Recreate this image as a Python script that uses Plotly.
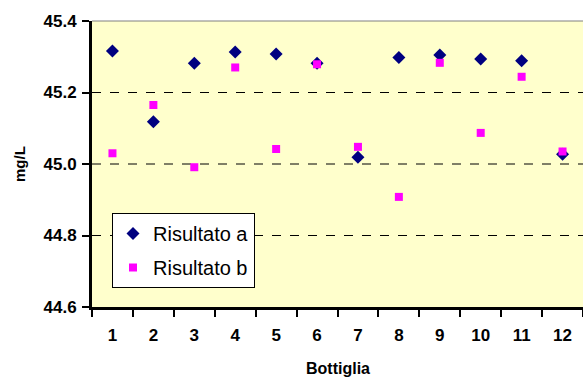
import plotly.graph_objects as go

bottiglie = ["1", "2", "3", "4", "5", "6", "7", "8", "9", "10", "11", "12"]
risultato_a = [45.316, 45.118, 45.282, 45.313, 45.308, 45.282, 45.019, 45.298, 45.305, 45.294, 45.289, 45.027]
risultato_b = [45.030, 45.165, 44.991, 45.270, 45.042, 45.279, 45.048, 44.908, 45.283, 45.087, 45.244, 45.035]
y_ticks = [44.6, 44.8, 45.0, 45.2, 45.4]

W, H = 583, 380
L, R, T, B = 92, 0, 21, 73
FONT = "Arial, Liberation Sans, sans-serif"

fig = go.Figure()
fig.add_trace(go.Scatter(x=bottiglie, y=risultato_a, mode="markers", name="Risultato a",
                         legendgroup="a",
                         marker=dict(symbol="diamond", size=10, color="#000080")))
fig.add_trace(go.Scatter(x=bottiglie, y=risultato_b, mode="markers", name="Risultato b",
                         legendgroup="b",
                         marker=dict(symbol="square", size=8, color="#FF00FF")))

for v in y_ticks[1:-1]:
    fig.add_shape(type="line", xref="paper", yref="y", x0=0, x1=1, y0=v, y1=v,
                  line=dict(color="black", width=1, dash="dash"), layer="below")
fig.add_shape(type="line", xref="paper", yref="paper", x0=0, x1=1, y0=1, y1=1,
              line=dict(color="#808080", width=1))

fig.update_layout(
    width=W, height=H,
    margin=dict(l=L, r=R, t=T, b=B),
    paper_bgcolor="white",
    plot_bgcolor="#FFFFCC",
    font=dict(family=FONT, color="black"),
    showlegend=True,
    legend=dict(x=(112 - L) / (W - L - R), y=(H - B - 213) / (H - B - T),
                xanchor="left", yanchor="top",
                bgcolor="white", bordercolor="black", borderwidth=1,
                font=dict(size=20, family=FONT),
                itemwidth=30,
                tracegroupgap=5, traceorder="grouped"),
    xaxis=dict(type="category", range=[-0.5, 11.5], tickson="boundaries",
               tickmode="array", tickvals=bottiglie,
               ticktext=[f"<b>{c}</b>" for c in bottiglie],
               ticks="outside", ticklen=7, tickwidth=2, tickcolor="black",
               ticklabelstandoff=11,
               showline=True, linecolor="black", linewidth=3,
               showgrid=False, zeroline=False,
               tickfont=dict(size=17, family=FONT)),
    yaxis=dict(range=[44.6, 45.4], tickmode="array", tickvals=y_ticks,
               ticktext=[f"<b>{v:.1f}</b>" for v in y_ticks],
               ticks="outside", ticklen=7, tickwidth=2, tickcolor="black",
               ticklabelstandoff=2,
               showline=True, linecolor="black", linewidth=3,
               showgrid=False, zeroline=False,
               tickfont=dict(size=17, family=FONT)),
    annotations=[
        dict(text="<b>Bottiglia</b>", xref="paper", yref="paper", x=0.5,
             y=-(368 - (H - B)) / (H - B - T),
             showarrow=False, xanchor="center", yanchor="middle", font=dict(size=16)),
        dict(text="<b>mg/L</b>", xref="paper", yref="paper", x=-(L - 19) / (W - L - R), y=0.5,
             showarrow=False, xanchor="center", yanchor="middle", textangle=-90,
             font=dict(size=15)),
    ],
)

fig.write_html("out.html")
